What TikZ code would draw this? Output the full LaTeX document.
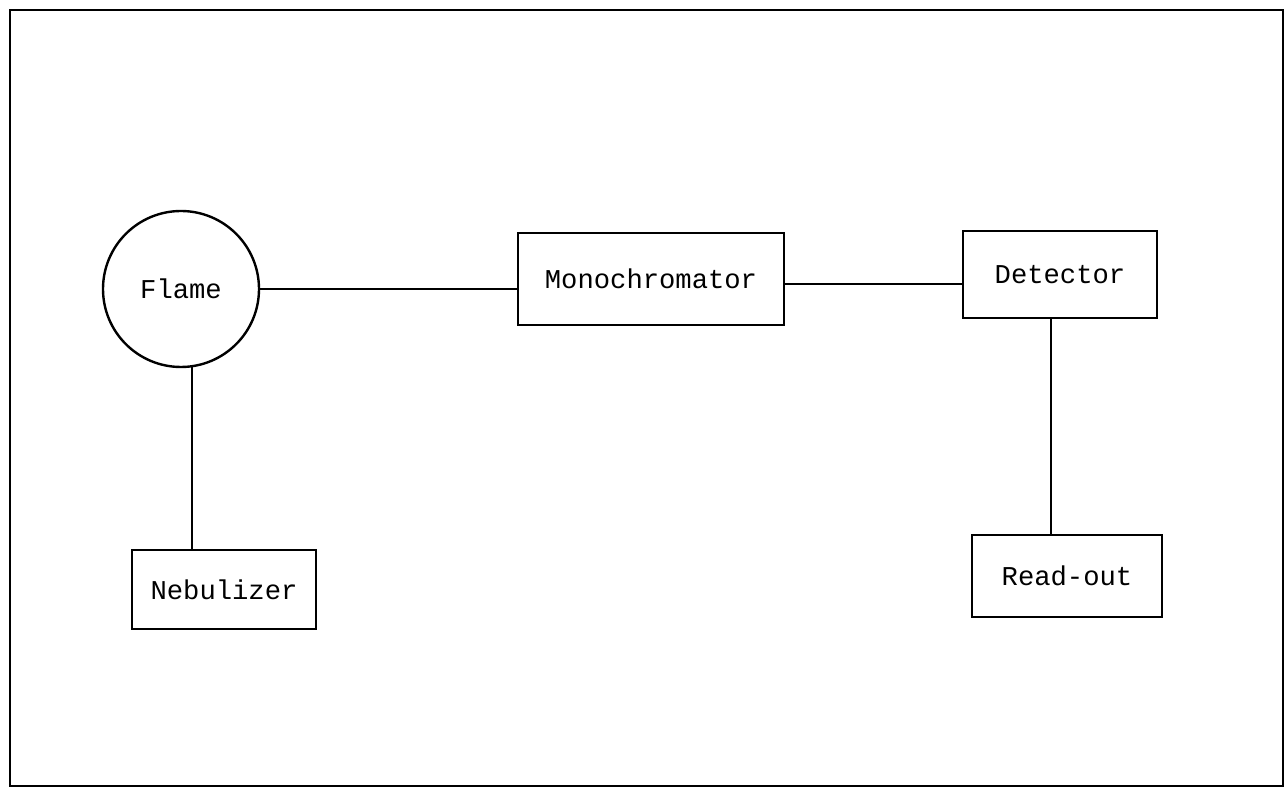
\documentclass[tikz,border=0pt]{standalone}
\usepackage{fontspec}
\setmonofont{Liberation Mono}
\begin{document}
\begin{tikzpicture}[x=0.5pt,y=-0.5pt,
  every node/.style={font=\ttfamily\fontsize{13.6pt}{16pt}\selectfont},
  blk/.style={draw, line width=1.2pt, rectangle, inner sep=0pt},
  conn/.style={line width=1.2pt}]
\useasboundingbox (0,0) rectangle (1287,790);
\draw[line width=1.3pt] (10,10) rectangle (1283,786);
\node[draw, line width=1.2pt, circle, minimum size=78pt, inner sep=0pt] (flame) at (181,289) {Flame};
\node[blk, minimum width=133pt, minimum height=46pt] (mono) at (651,279) {Monochromator};
\node[blk, minimum width=97pt, minimum height=43.5pt] (det) at (1060,274.5) {Detector};
\node[blk, minimum width=95pt, minimum height=41pt] (ro) at (1067,576) {Read-out};
\node[blk, minimum width=92pt, minimum height=39.5pt] (neb) at (224,589.5) {Nebulizer};
\draw[conn] (flame.east) -- (flame.east -| mono.west);
\draw[conn] ([yshift=-2.5pt]mono.east) -- ([yshift=-2.5pt]mono.east -| det.west);
\draw[conn] ([xshift=-4.5pt]det.south) -- ([xshift=-4.5pt]det.south |- ro.north);
\draw[conn] (flame.-82) -- (flame.-82 |- neb.north);
\end{tikzpicture}
\end{document}
